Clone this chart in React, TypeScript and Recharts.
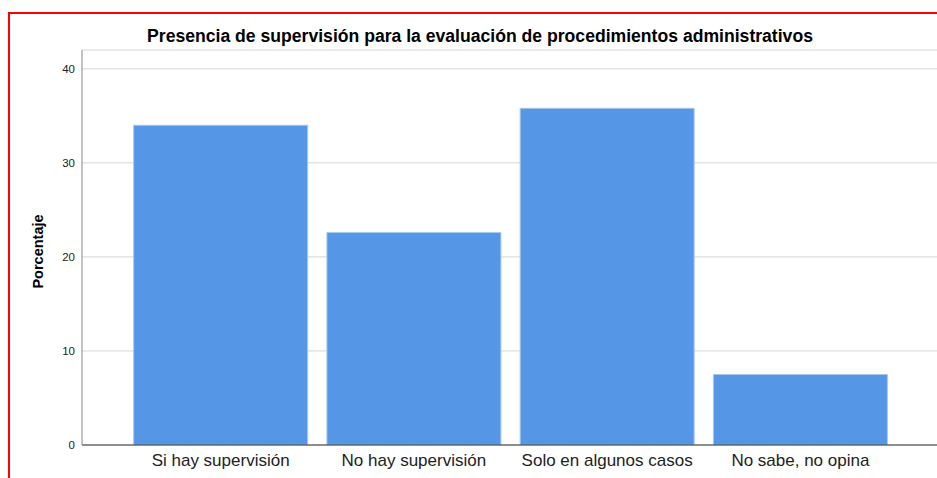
import { Bar, BarChart, CartesianGrid, XAxis, YAxis } from "recharts";

const categories = ["Si hay supervisión", "No hay supervisión", "Solo en algunos casos", "No sabe, no opina"];
const percentages = [34.0, 22.6, 35.8, 7.5];
const yTicks = [0, 10, 20, 30, 40];

const data = categories.map((name, i) => ({ name, value: percentages[i] }));

const font = "Arial, 'Liberation Sans', sans-serif";

const YLabel = (props: any) => {
  const { viewBox } = props;
  const cx = 38;
  const cy = viewBox.y + viewBox.height / 2 + 4;
  return (
    <text
      x={cx}
      y={cy}
      transform={`rotate(-90 ${cx} ${cy})`}
      textAnchor="middle"
      dominantBaseline="central"
      fontFamily={font}
      fontSize={14.5}
      fontWeight="bold"
      fill="#000"
    >
      Porcentaje
    </text>
  );
};

export default function App() {
  return (
    <div style={{ position: "absolute", left: 0, top: 0, width: 937, height: 478, background: "#fff", overflow: "hidden", fontFamily: font }}>
      <div style={{ position: "absolute", left: 8, top: 12, width: 940, height: 480, borderLeft: "2px solid #f00", borderTop: "2px solid #f00" }} />
      <div
        style={{
          position: "absolute",
          left: 480,
          top: 26,
          transform: "translateX(-50%)",
          whiteSpace: "nowrap",
          fontSize: 17.6,
          fontWeight: "bold",
          color: "#000",
        }}
      >
        Presencia de supervisión para la evaluación de procedimientos administrativos
      </div>
      <div style={{ position: "absolute", left: 0, top: 0 }}>
        <BarChart width={937} height={478} data={data} margin={{ top: 50, right: 0, left: 0, bottom: 0 }} barCategoryGap="5%">
          <CartesianGrid horizontal vertical={false} stroke="#d6d6d6" />
          <XAxis
            dataKey="name"
            padding={{ left: 42, right: 40 }}
            axisLine={{ stroke: "#333" }}
            tickLine={false}
            tickSize={0}
            tickMargin={9}
            interval={0}
            tick={{ fontSize: 17, fill: "#222", fontFamily: font }}
            height={33}
          />
          <YAxis
            width={82}
            domain={[0, 42]}
            ticks={yTicks}
            allowDataOverflow
            axisLine={{ stroke: "#888" }}
            tickLine={false}
            tickSize={0}
            tickMargin={7}
            tick={{ fontSize: 11.5, fill: "#222", fontFamily: font }}
            label={<YLabel />}
          />
          <Bar dataKey="value" fill="#5596e6" stroke="#a7c9f2" strokeWidth={1} isAnimationActive={false} />
        </BarChart>
      </div>
    </div>
  );
}
